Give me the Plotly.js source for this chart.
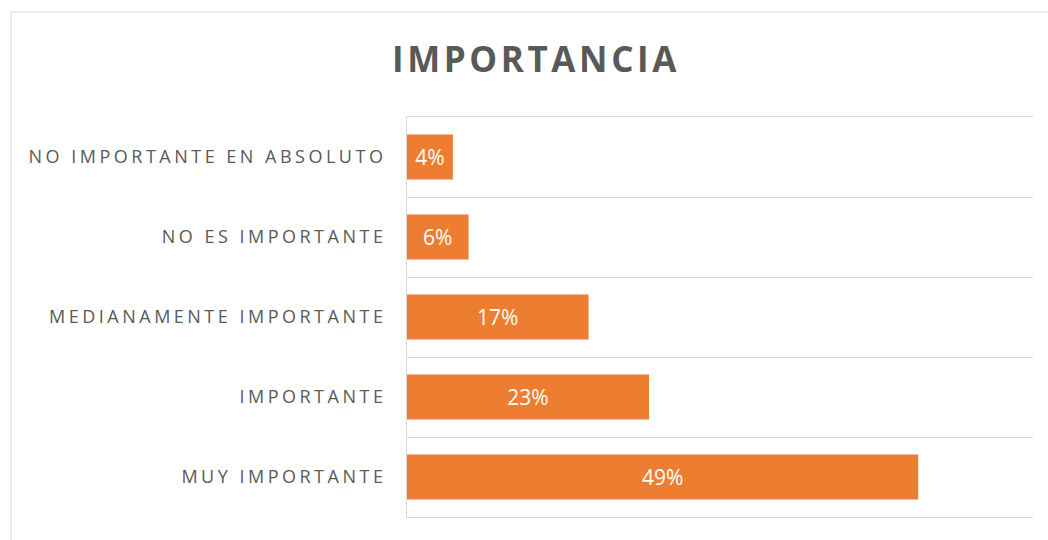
<!DOCTYPE html>
<html>
<head>
<meta charset="utf-8">
<script src="https://cdn.plot.ly/plotly-3.0.1.min.js"></script>
<style>
  html, body { margin: 0; padding: 0; background: #ffffff; }
  #chart { width: 1048px; height: 540px; }
  .ytick text { letter-spacing: 3.5px; }
  .gtitle { letter-spacing: 3.6px; }
</style>
</head>
<body>
<div id="chart"></div>
<script>
var categories = [
  "NO IMPORTANTE EN ABSOLUTO",
  "NO ES IMPORTANTE",
  "MEDIANAMENTE IMPORTANTE",
  "IMPORTANTE",
  "MUY IMPORTANTE"
];
var shares = [0.044, 0.059, 0.174, 0.232, 0.49];
var chartTitle = "IMPORTANCIA";

var trace = {
  type: "bar",
  orientation: "h",
  y: categories,
  x: shares,
  width: 0.56,
  marker: { color: "#ED7D31" },
  texttemplate: "%{x:.0%}",
  textposition: "inside",
  insidetextanchor: "middle",
  constraintext: "none",
  textfont: { color: "#ffffff", size: 21, family: "Open Sans, sans-serif" },
  hoverinfo: "skip"
};

var layout = {
  width: 1048,
  height: 540,
  margin: { l: 407, r: 15, t: 117, b: 23, pad: 0 },
  paper_bgcolor: "#ffffff",
  plot_bgcolor: "#ffffff",
  showlegend: false,
  font: { family: "Open Sans, sans-serif", color: "#595959" },
  title: {
    text: "<b>" + chartTitle + "</b>",
    font: { size: 35, color: "#595959", family: "Open Sans, sans-serif" },
    xref: "container", x: 536 / 1048, xanchor: "center",
    yref: "container", y: 1 - 60 / 540, yanchor: "middle"
  },
  xaxis: {
    range: [0, 0.6],
    showgrid: false,
    zeroline: false,
    showticklabels: false,
    showline: true,
    mirror: true,
    linecolor: "#D9D9D9",
    linewidth: 1,
    ticks: "",
    fixedrange: true
  },
  yaxis: {
    type: "category",
    autorange: "reversed",
    tickson: "boundaries",
    showgrid: true,
    gridcolor: "#D9D9D9",
    gridwidth: 1,
    showline: true,
    linecolor: "#D9D9D9",
    linewidth: 1,
    ticks: "",
    ticklabelstandoff: 16,
    tickfont: { size: 18, color: "#595959", family: "Open Sans, sans-serif" },
    fixedrange: true
  },
  shapes: [{
    type: "rect",
    xref: "paper", yref: "paper",
    x0: (11 - 407) / 626, x1: 1.06,
    y0: -0.1, y1: (517 - 12) / 400,
    line: { color: "#D9D9D9", width: 1 },
    fillcolor: "rgba(0,0,0,0)",
    layer: "below"
  }]
};

Plotly.newPlot("chart", [trace], layout, { displayModeBar: false, staticPlot: true });
</script>
</body>
</html>
